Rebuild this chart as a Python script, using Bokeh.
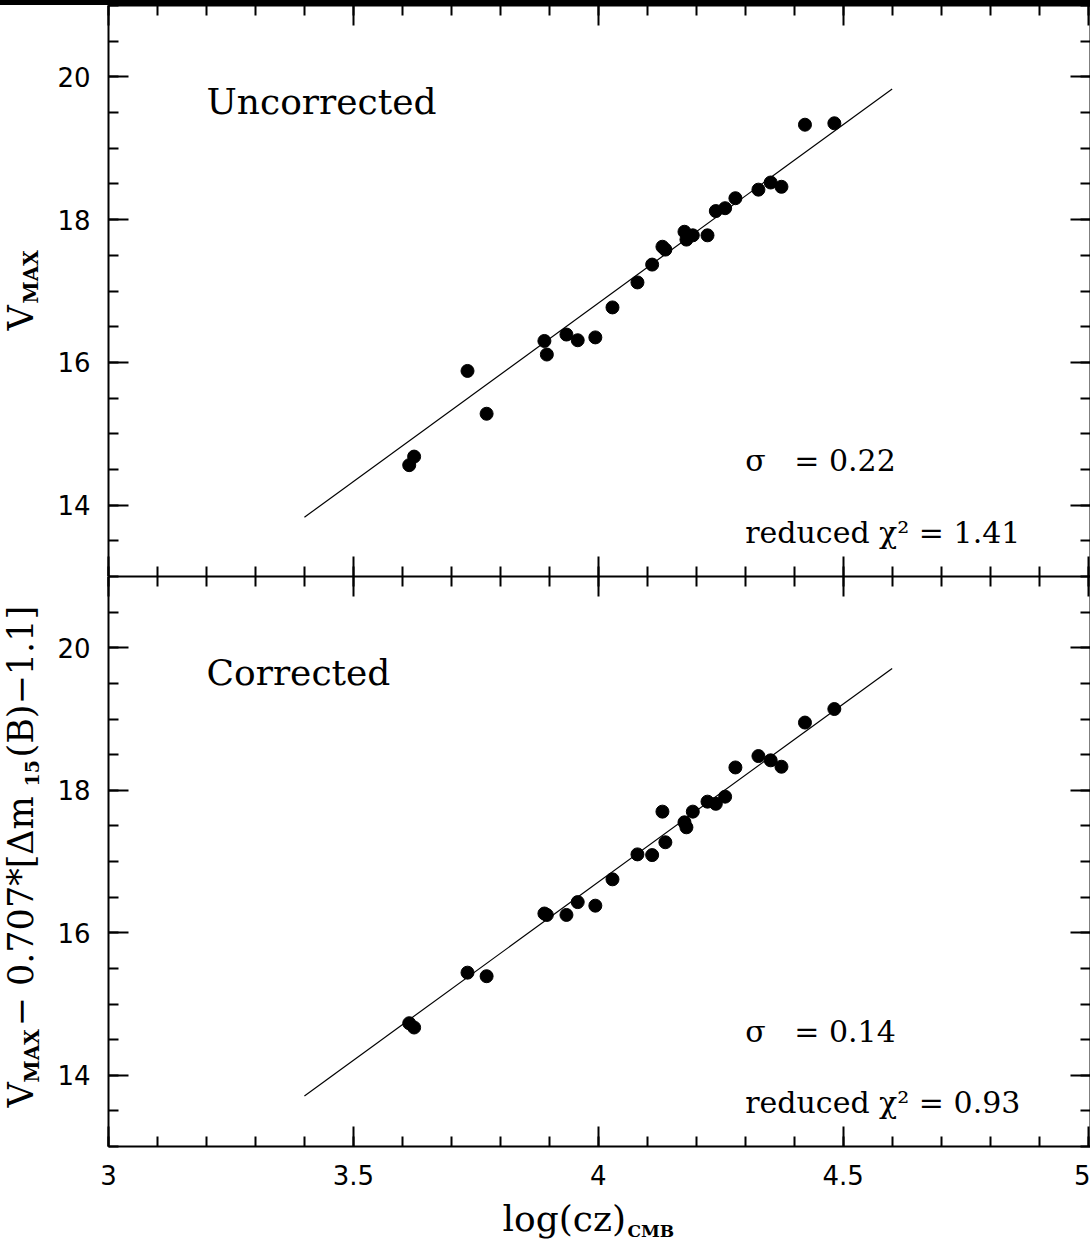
import math
from bokeh.plotting import figure
from bokeh.models import (LinearAxis, SingleIntervalTicker, NumeralTickFormatter,
                          Label, Range1d, Div, ColumnDataSource, CustomLabelingPolicy)
from bokeh.layouts import column, row
from bokeh.embed import file_html
from bokeh.resources import INLINE

# ---------------- data ----------------
log_cz = [3.614, 3.624, 3.733, 3.772, 3.890, 3.895, 3.935, 3.958, 3.994, 4.029,
          4.080, 4.110, 4.131, 4.137, 4.176, 4.180, 4.193, 4.223, 4.240, 4.259,
          4.280, 4.327, 4.352, 4.374, 4.422, 4.482]
vmax_uncorrected = [14.56, 14.68, 15.88, 15.28, 16.30, 16.11, 16.39, 16.31, 16.35, 16.77,
                    17.12, 17.37, 17.62, 17.58, 17.83, 17.72, 17.78, 17.78, 18.12, 18.16,
                    18.30, 18.42, 18.52, 18.46, 19.33, 19.35]
vmax_corrected = [14.73, 14.67, 15.44, 15.39, 16.27, 16.25, 16.25, 16.43, 16.38, 16.75,
                  17.10, 17.09, 17.70, 17.27, 17.55, 17.48, 17.70, 17.84, 17.81, 17.91,
                  18.32, 18.48, 18.42, 18.33, 18.95, 19.14]
fit_x = [3.4, 4.6]
fit_slope = 5.0
fit_intercept_uncorrected = -3.17
fit_intercept_corrected = -3.29
panel_titles = ["Uncorrected", "Corrected"]
sigma_texts = ["σ\u00a0\u00a0\u00a0= 0.22", "σ\u00a0\u00a0\u00a0= 0.14"]
chi_texts = ["reduced χ² = 1.41", "reduced χ² = 0.93"]
x_label_main = "log(cz)"
x_label_sub = "CMB"

# ---------------- geometry ----------------
W = 1090
STRIP = 50           # width of the y-label strip
FL = 108             # left edge of the plotting frame on the page
X0, X1 = 3.0, 5.005
Y0, Y1 = 13.0, 21.0
BAR = 5
H1 = 571             # top panel (frame only)
FRAME2 = 570
BOTTOM_BORDER = 50
H2 = FRAME2 + BOTTOM_BORDER
TOP1 = BAR
TOP2 = BAR + H1
BOT2 = TOP2 + FRAME2
XL_TOP = TOP2 + H2
XL_H = 1240 - XL_TOP

SERIF = "DejaVu Serif"
SANS = "DejaVu Sans"


def style_axis(ax, labels):
    ax.axis_line_width = 2
    ax.major_tick_line_width = 2
    ax.minor_tick_line_width = 2
    ax.major_tick_in = 20
    ax.major_tick_out = 0
    ax.minor_tick_in = 10
    ax.minor_tick_out = 0
    if labels:
        ax.major_label_text_font = SANS
        ax.major_label_text_font_size = "26px"
        ax.major_label_text_color = "black"
        ax.major_label_standoff = 18
    else:
        ax.major_label_text_font_size = "0px"
        ax.major_label_standoff = 0
        ax.major_label_policy = CustomLabelingPolicy(code="return []")


def make_panel(yvals, intercept, title, sig, chi, height, bottom_border, show_xlabels):
    p = figure(width=W - STRIP, height=height, output_backend="svg", toolbar_location=None,
               x_range=Range1d(X0, X1), y_range=Range1d(Y0, Y1),
               x_axis_location=None, y_axis_location=None,
               min_border_left=FL - STRIP, min_border_right=0, min_border_top=0,
               min_border_bottom=bottom_border)
    p.outline_line_color = None
    p.grid.visible = False
    p.background_fill_color = "white"
    p.border_fill_color = "white"

    def xticker():
        return SingleIntervalTicker(interval=0.5, num_minor_ticks=5)

    def yticker():
        return SingleIntervalTicker(interval=2, num_minor_ticks=4)

    bx = LinearAxis(ticker=xticker(), formatter=NumeralTickFormatter(format="0.[0]"))
    style_axis(bx, show_xlabels)
    p.add_layout(bx, "below")
    tx = LinearAxis(ticker=xticker())
    style_axis(tx, False)
    p.add_layout(tx, "above")
    ly = LinearAxis(ticker=yticker())
    style_axis(ly, True)
    p.add_layout(ly, "left")
    ry = LinearAxis(ticker=yticker())
    style_axis(ry, False)
    p.add_layout(ry, "right")

    src = ColumnDataSource(dict(x=log_cz, y=yvals))
    p.scatter("x", "y", source=src, size=13, color="black")
    fit_y = [fit_slope * v + intercept for v in fit_x]
    p.line(fit_x, fit_y, line_color="black", line_width=1.2)

    p.add_layout(Label(x=3.2, y=19.65, text=title, text_font=SERIF, text_font_size="36px",
                       text_color="black", text_baseline="middle"))
    p.add_layout(Label(x=4.3, y=14.62, text=sig, text_font=SERIF, text_font_size="30px",
                       text_color="black", text_baseline="middle"))
    p.add_layout(Label(x=4.3, y=13.62, text=chi, text_font=SERIF, text_font_size="30px",
                       text_color="black", text_baseline="middle"))
    return p


def strip(width, height, x0, x1, ytop, ybot, bottom_border=0):
    s = figure(width=width, height=height, output_backend="svg", toolbar_location=None,
               x_range=Range1d(x0, x1), y_range=Range1d(ybot, ytop),
               x_axis_location=None, y_axis_location=None, min_border=0,
               min_border_bottom=bottom_border)
    s.outline_line_color = None
    s.grid.visible = False
    s.background_fill_color = "white"
    s.border_fill_color = "white"
    return s


def put(s, x, y, text, size, bold=False, angle=0.0):
    s.add_layout(Label(x=x, y=y, text=text, angle=angle,
                       text_font=SERIF, text_font_size=size, text_color="black",
                       text_font_style="bold" if bold else "normal",
                       text_align="left", text_baseline="middle"))


p1 = make_panel(vmax_uncorrected, fit_intercept_uncorrected, panel_titles[0], sigma_texts[0],
                chi_texts[0], H1, 0, False)
p2 = make_panel(vmax_corrected, fit_intercept_corrected, panel_titles[1], sigma_texts[1],
                chi_texts[1], H2, BOTTOM_BORDER, True)

UP = math.pi / 2
# y-axis label strip, top panel: V_MAX   (strip frame coordinates = page pixels)
yl1 = strip(STRIP, H1, 0, STRIP, TOP1, TOP1 + H1)
put(yl1, 20, 330, "V", "35px", angle=UP)
put(yl1, 30, 303, "MAX", "20px", bold=True, angle=UP)

# y-axis label strip, bottom panel: V_MAX - 0.707*[Δm_15(B)-1.1]
# its frame lines up with the bottom panel's frame (page y TOP2..BOT2)
yl2 = strip(STRIP, H2, 0, STRIP, TOP2, BOT2, bottom_border=BOTTOM_BORDER)
put(yl2, 20, 1107, "V", "35px", angle=UP)
put(yl2, 31, 1082, "MAX", "20px", bold=True, angle=UP)
put(yl2, 20, 1026, "− 0.707*[Δm", "35px", angle=UP)
put(yl2, 31, 786, "15", "19px", bold=True, angle=UP)
put(yl2, 20, 757, "(B)−1.1]", "35px", angle=UP)

# x-axis label strip: log(cz)_CMB
xl = strip(W, XL_H, 0, W, XL_TOP, 1240)
put(xl, 502, 1218, x_label_main, "36px")
put(xl, 627, 1230, x_label_sub, "17px", bold=True)

bar = Div(width=W, height=BAR, margin=0, styles={"background-color": "black"})
layout = column(bar, row(yl1, p1), row(yl2, p2), xl)

open("out.html", "w").write(file_html(layout, INLINE))
